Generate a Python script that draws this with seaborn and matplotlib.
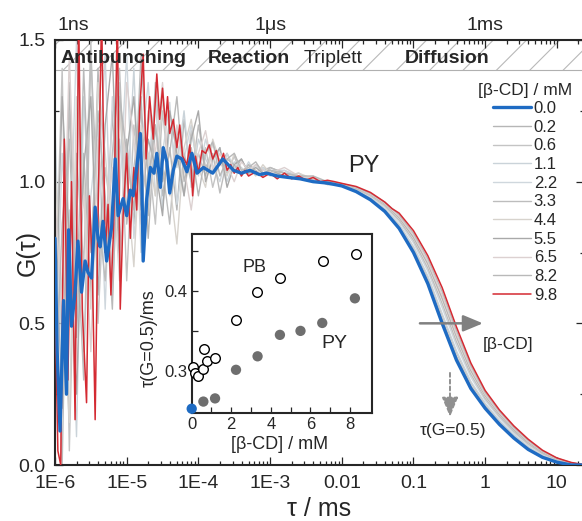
import numpy as np
import pandas as pd
import matplotlib
matplotlib.use('Agg')
import matplotlib.pyplot as plt
from matplotlib.ticker import FixedLocator, MultipleLocator, FormatStrFormatter, NullFormatter
import seaborn as sns

sns.set_style('ticks')
plt.rcParams['font.family'] = ['Liberation Sans', 'DejaVu Sans']
plt.rcParams['hatch.color'] = '#b8b8b8'
plt.rcParams['hatch.linewidth'] = 0.8

# ---- main panel data: log10(tau / ms) and normalised G(tau) ----
concs = ['0.0', '0.2', '0.6', '1.1', '2.2', '3.3', '4.4', '5.5', '6.5', '8.2', '9.8']

blue_logtau = [-6.00, -5.97, -5.93, -5.88, -5.84, -5.81, -5.77, -5.72, -5.68, -5.63,
               -5.58, -5.54, -5.49, -5.44, -5.40, -5.37, -5.33, -5.28, -5.21, -5.16,
               -5.12, -5.05, -5.00, -4.95, -4.91, -4.86, -4.81, -4.79, -4.77, -4.72,
               -4.67, -4.62, -4.58, -4.53, -4.49, -4.44, -4.40, -4.35, -4.30, -4.23,
               -4.16, -4.09, -4.02, -3.93, -3.80, -3.66, -3.51, -3.40, -3.28, -3.15,
               -3.05, -2.90, -2.75, -2.58, -2.40, -2.20,
               -2.0, -1.8, -1.6, -1.4, -1.2, -1.0, -0.8, -0.6, -0.4, -0.2,
               0.0, 0.2, 0.4, 0.6, 0.8, 1.0, 1.2, 1.4]
blue_G = [0.80, 0.40, 0.12, 0.58, 0.25, 0.83, 0.49, 0.61, 0.79, 0.61,
          0.72, 0.68, 0.66, 0.91, 0.80, 0.77, 0.86, 0.72, 0.84, 1.08,
          0.88, 0.94, 0.88, 0.97, 0.95, 1.05, 1.17, 1.02, 0.72, 0.94,
          1.05, 1.03, 1.10, 0.98, 1.12, 1.07, 0.96, 1.04, 1.09, 1.08,
          1.035, 1.10, 1.03, 1.05, 1.03, 1.08, 1.04, 1.03, 1.04, 1.025,
          1.03, 1.02, 1.015, 1.01, 1.0, 0.995,
          0.985, 0.965, 0.936, 0.895, 0.835, 0.75, 0.64, 0.50, 0.37, 0.27,
          0.20, 0.143, 0.095, 0.055, 0.027, 0.01, 0.0, 0.0]

red_logtau = [-6.00, -5.96, -5.92, -5.87, -5.82, -5.77, -5.72, -5.67, -5.62, -5.56,
              -5.52, -5.48, -5.44, -5.40, -5.35, -5.30, -5.26, -5.22, -5.18, -5.13,
              -5.09, -5.05, -5.00, -4.95, -4.90, -4.86, -4.82, -4.77, -4.73, -4.68,
              -4.63, -4.58, -4.54, -4.50, -4.46, -4.43, -4.40, -4.35, -4.30, -4.26,
              -4.22, -4.16, -4.12, -4.08, -4.04, -4.00, -3.95, -3.90, -3.85, -3.80,
              -3.75, -3.70, -3.65, -3.60, -3.55, -3.50, -3.45, -3.40, -3.35, -3.30,
              -3.20, -3.10, -3.00, -2.90, -2.80, -2.70, -2.60, -2.50, -2.40, -2.30,
              -2.20, -2.10, -2.0, -1.8, -1.6, -1.5, -1.4, -1.3, -1.2, -1.0,
              -0.8, -0.6, -0.4, -0.2, 0.0, 0.2, 0.4, 0.6, 0.8, 1.0,
              1.2, 1.4]
red_G = [0.60, 0.05, 0.00, 1.15, 0.30, 1.00, 0.16, 1.60, 0.55, 0.22,
         0.95, 0.70, 0.16, 0.87, 1.60, 0.75, 0.92, 0.60, 0.85, 1.60,
         0.55, 0.88, 1.10, 0.80, 1.05, 0.90, 1.25, 1.45, 1.08, 1.30,
         1.15, 1.38, 1.22, 1.33, 1.20, 1.30, 1.17, 1.22, 1.12, 1.20,
         1.09, 1.06, 1.13, 0.95, 1.09, 1.03, 1.11, 1.10, 1.13, 1.08,
         1.11, 1.06, 1.10, 1.04, 1.06, 1.03, 1.05, 1.02, 1.04, 1.02,
         1.035, 1.015, 1.03, 1.01, 1.03, 1.01, 1.02, 1.005, 1.015, 1.0,
         1.005, 1.0, 0.994, 0.983, 0.962, 0.945, 0.928, 0.905, 0.889, 0.827,
         0.739, 0.626, 0.487, 0.36, 0.263, 0.194, 0.138, 0.091, 0.052, 0.025,
         0.009, 0.0]

gray_logtau = [-6.0, -5.9, -5.8, -5.7, -5.6, -5.5, -5.4, -5.3, -5.2, -5.1,
               -5.0, -4.9, -4.8, -4.7, -4.6, -4.5, -4.4, -4.3, -4.2, -4.1,
               -4.0, -3.9, -3.8, -3.7, -3.6, -3.5, -3.4, -3.3, -3.2, -3.1,
               -3.0, -2.8, -2.6, -2.4, -2.2,
               -2.0, -1.8, -1.6, -1.4, -1.2, -1.0, -0.8, -0.6, -0.4, -0.2,
               0.0, 0.2, 0.4, 0.6, 0.8, 1.0, 1.2, 1.4]
gray_G = {
    '0.2': [0.90, 0.20, 1.35, 0.45, 1.10, 0.60, 1.40, 0.75, 1.25, 0.70,
            1.15, 0.85, 1.30, 0.80, 1.20, 0.95, 1.12, 0.90, 1.22, 1.00,
            1.10, 1.02, 1.14, 1.06, 1.10, 1.04, 1.08, 1.03, 1.06, 1.04,
            1.05, 1.03, 1.02, 1.01, 1.00,
            0.986, 0.967, 0.939, 0.899, 0.841, 0.759, 0.651, 0.514, 0.383, 0.280,
            0.207, 0.149, 0.100, 0.059, 0.030, 0.012, 0.001, 0.0],
    '0.6': [0.55, 1.40, 0.05, 1.10, 0.70, 1.50, 0.50, 1.05, 0.85, 1.35,
            0.65, 1.20, 0.95, 1.10, 0.85, 1.25, 1.00, 1.15, 0.95, 1.18,
            1.05, 1.12, 0.98, 1.08, 1.03, 1.09, 1.02, 1.06, 1.03, 1.05,
            1.04, 1.02, 1.03, 1.00, 1.00,
            0.987, 0.969, 0.942, 0.903, 0.847, 0.767, 0.662, 0.528, 0.396, 0.290,
            0.214, 0.154, 0.105, 0.063, 0.033, 0.013, 0.002, 0.0],
    '1.1': [1.20, 0.35, 0.90, 0.10, 1.30, 0.80, 1.00, 1.45, 0.60, 1.15,
            0.90, 1.40, 0.75, 1.05, 1.30, 0.90, 1.20, 1.05, 1.25, 0.98,
            1.15, 1.08, 1.03, 1.12, 1.00, 1.07, 1.05, 1.02, 1.06, 1.03,
            1.04, 1.04, 1.01, 1.02, 0.99,
            0.988, 0.970, 0.943, 0.905, 0.850, 0.771, 0.668, 0.535, 0.403, 0.295,
            0.218, 0.157, 0.107, 0.065, 0.034, 0.014, 0.003, 0.0],
    '2.2': [0.30, 1.10, 0.65, 1.50, 0.40, 0.95, 1.20, 0.55, 1.30, 0.95,
            1.45, 0.80, 1.10, 1.35, 0.95, 1.10, 1.28, 0.92, 1.08, 1.20,
            1.02, 1.15, 1.06, 1.00, 1.10, 1.05, 1.02, 1.07, 1.03, 1.05,
            1.02, 1.04, 1.02, 1.00, 1.00,
            0.989, 0.973, 0.948, 0.911, 0.859, 0.784, 0.684, 0.556, 0.422, 0.310,
            0.228, 0.166, 0.114, 0.071, 0.038, 0.017, 0.004, 0.0],
    '3.3': [0.70, 0.00, 1.25, 0.85, 0.30, 1.45, 0.90, 0.65, 1.10, 1.40,
            0.85, 1.05, 1.25, 0.88, 1.35, 1.05, 0.85, 1.18, 1.10, 1.00,
            1.20, 1.05, 1.10, 0.96, 1.08, 1.06, 1.03, 1.06, 1.04, 1.02,
            1.05, 1.03, 1.02, 1.01, 1.00,
            0.990, 0.975, 0.951, 0.916, 0.865, 0.793, 0.695, 0.570, 0.435, 0.320,
            0.235, 0.172, 0.119, 0.075, 0.041, 0.019, 0.005, 0.0],
    '4.4': [1.05, 0.60, 0.15, 1.30, 1.00, 0.55, 1.35, 1.10, 0.80, 1.25,
            1.00, 0.70, 1.20, 1.10, 0.95, 1.30, 1.00, 0.78, 1.12, 1.22,
            1.05, 0.98, 1.15, 1.07, 1.02, 1.10, 1.04, 1.05, 1.02, 1.06,
            1.03, 1.02, 1.03, 1.01, 1.00,
            0.991, 0.977, 0.953, 0.920, 0.871, 0.801, 0.706, 0.584, 0.448, 0.330,
            0.242, 0.177, 0.124, 0.079, 0.044, 0.020, 0.006, 0.0],
    '5.5': [0.45, 1.30, 0.80, 0.25, 1.05, 1.30, 0.60, 1.20, 1.45, 0.75,
            1.10, 1.30, 0.90, 1.15, 1.05, 0.88, 1.25, 1.10, 0.95, 1.15,
            1.25, 1.00, 1.08, 1.12, 0.98, 1.06, 1.08, 1.03, 1.05, 1.03,
            1.04, 1.02, 1.01, 1.01, 0.99,
            0.992, 0.978, 0.955, 0.922, 0.874, 0.805, 0.712, 0.591, 0.455, 0.335,
            0.246, 0.180, 0.126, 0.081, 0.045, 0.021, 0.007, 0.0],
    '6.5': [0.95, 0.50, 1.45, 0.70, 0.95, 0.40, 1.15, 0.85, 1.05, 0.65,
            1.35, 1.15, 0.85, 1.25, 1.10, 1.35, 0.95, 1.20, 1.05, 0.90,
            1.10, 1.18, 1.04, 1.10, 1.06, 1.00, 1.07, 1.04, 1.06, 1.04,
            1.03, 1.05, 1.02, 1.01, 1.00,
            0.992, 0.979, 0.956, 0.924, 0.877, 0.810, 0.717, 0.598, 0.461, 0.340,
            0.249, 0.183, 0.129, 0.083, 0.047, 0.022, 0.007, 0.0],
    '8.2': [0.20, 0.85, 1.15, 0.55, 1.40, 0.75, 1.25, 0.95, 0.55, 1.30,
            1.10, 0.90, 1.45, 1.00, 1.20, 1.00, 1.10, 1.30, 1.00, 1.12,
            0.95, 1.10, 1.14, 1.02, 1.08, 1.10, 1.04, 1.05, 1.07, 1.03,
            1.04, 1.03, 1.02, 1.02, 1.00,
            0.993, 0.981, 0.959, 0.928, 0.883, 0.818, 0.728, 0.612, 0.474, 0.350,
            0.256, 0.189, 0.133, 0.087, 0.049, 0.024, 0.008, 0.0],
}

# ---- inset data: tau(G=0.5) vs [beta-CD] ----
pb_conc = [0.08, 0.15, 0.30, 0.55, 0.60, 0.78, 1.18, 2.24, 3.32, 4.46, 6.62, 8.33]
pb_tau = [0.305, 0.297, 0.293, 0.302, 0.327, 0.312, 0.316, 0.364, 0.399, 0.416, 0.438, 0.447]
py_conc = [0.59, 1.18, 2.24, 3.33, 4.46, 5.50, 6.60, 8.25]
py_tau = [0.261, 0.265, 0.301, 0.318, 0.345, 0.350, 0.360, 0.391]
ref_conc = [0.0]
ref_tau = [0.252]

colors = {'0.0': '#1e6bc3', '0.2': '#b6b6b6', '0.6': '#c4c4c4', '1.1': '#cad3d9',
          '2.2': '#cfd7dd', '3.3': '#bdbdbd', '4.4': '#d7d3cd', '5.5': '#a9a9a9',
          '6.5': '#dcd1d1', '8.2': '#b9b9b9', '9.8': '#d42a32'}

frames = [pd.DataFrame({'tau': 10 ** np.array(blue_logtau), 'G': blue_G, 'conc': '0.0'}),
          pd.DataFrame({'tau': 10 ** np.array(red_logtau), 'G': red_G, 'conc': '9.8'})]
for c, g in gray_G.items():
    frames.append(pd.DataFrame({'tau': 10 ** np.array(gray_logtau), 'G': g, 'conc': c}))
df = pd.concat(frames, ignore_index=True)

fig = plt.figure(figsize=(5.82, 5.21), dpi=100)
ax = fig.add_axes([55 / 582, 1 - 465 / 521, 529 / 582, 425 / 521])
ax.set_xscale('log')

# hatched band with regime labels
ax.axhspan(1.394, 1.5, facecolor='white', edgecolor='#b8b8b8', hatch='/', lw=0, zorder=0.5)
ax.axhline(1.394, color='#b0b0b0', lw=0.8, zorder=0.6)

order = ['0.2', '0.6', '1.1', '2.2', '3.3', '4.4', '5.5', '6.5', '8.2', '9.8', '0.0']
for c in order:
    sub = df[df['conc'] == c]
    if c == '0.0':
        lw, z = 2.4, 4
    elif c == '9.8':
        lw, z = 1.1, 3
    else:
        lw, z = 1.0, 2
    sns.lineplot(data=sub, x='tau', y='G', color=colors[c], linewidth=lw,
                 estimator=None, sort=False, ax=ax, label=c, zorder=z)

ax.set_xlim(1e-6, 23.9)
ax.set_ylim(0, 1.5)
ax.xaxis.set_major_locator(FixedLocator([1e-6, 1e-5, 1e-4, 1e-3, 1e-2, 1e-1, 1, 10]))
ax.set_xticklabels(['1E-6', '1E-5', '1E-4', '1E-3', '0.01', '0.1', '1', '10'])
minors = [m * 10.0 ** e for e in range(-6, 2) for m in range(2, 10)]
ax.xaxis.set_minor_locator(FixedLocator(minors))
ax.xaxis.set_minor_formatter(NullFormatter())
ax.yaxis.set_major_locator(MultipleLocator(0.5))
ax.yaxis.set_minor_locator(MultipleLocator(0.25))
ax.yaxis.set_major_formatter(FormatStrFormatter('%.1f'))
ax.tick_params(which='both', direction='in', top=True, right=True, width=0.9, labelsize=14)
ax.tick_params(which='major', length=5.5, pad=7)
ax.tick_params(which='minor', length=3)
for s in ax.spines.values():
    s.set_linewidth(1.5)

ax.set_xlabel('τ / ms', fontsize=18, labelpad=4)
ax.set_ylabel('G(τ)', fontsize=18)
ax.yaxis.set_label_coords(-0.028, 0.5)

tr = ax.get_xaxis_transform()
ax.text(1.07e-6, 1.035, '1ns', transform=tr, ha='left', va='center', fontsize=14)
ax.text(1e-3, 1.035, '1μs', transform=tr, ha='center', va='center', fontsize=14)
ax.text(1, 1.035, '1ms', transform=tr, ha='center', va='center', fontsize=14)

ax.text(9.0e-6, 1.435, 'Antibunching', ha='center', va='center', fontsize=14, fontweight='bold', zorder=6)
ax.text(5.1e-4, 1.435, 'Reaction', ha='center', va='center', fontsize=14, fontweight='bold', zorder=6)
ax.text(7.5e-3, 1.435, 'Triplett', ha='center', va='center', fontsize=14, zorder=6)
ax.text(0.298, 1.435, 'Diffusion', ha='center', va='center', fontsize=14, fontweight='bold', zorder=6)

ax.text(0.0204, 1.055, 'PY', ha='center', va='center', fontsize=17)
ax.annotate('', xy=(0.93, 0.5), xytext=(0.123, 0.5), zorder=6,
            arrowprops=dict(arrowstyle='-|>,head_length=0.6,head_width=0.25',
                            color='#808080', lw=1.8, mutation_scale=20, shrinkA=0, shrinkB=0))
ax.text(2.08, 0.424, '[β-CD]', ha='center', va='center', fontsize=12.5)
ax.annotate('', xy=(0.323, 0.17), xytext=(0.323, 0.325), zorder=6,
            arrowprops=dict(arrowstyle='-|>,head_length=0.6,head_width=0.25',
                            color='#909090', lw=1.4, ls=(0, (2, 1.5)), mutation_scale=20,
                            shrinkA=0, shrinkB=0))
ax.text(0.356, 0.12, 'τ(G=0.5)', ha='center', va='center', fontsize=12.5)

handles, labels = ax.get_legend_handles_labels()
hmap = dict(zip(labels, handles))
leg = ax.legend([hmap[c] for c in concs], concs, title='[β-CD] / mM',
                loc='upper center', bbox_to_anchor=(525 / 582, 1 - 75 / 521),
                bbox_transform=fig.transFigure, frameon=False, fontsize=12,
                title_fontsize=12.5, borderpad=0, handlelength=2.3,
                handletextpad=0.15, labelspacing=0.22)
leg._legend_box.sep = 2

# ---- inset ----
axin = fig.add_axes([191.7 / 582, 1 - 412.7 / 521, 180 / 582, 178.7 / 521])
axin.set_facecolor('white')
sns.scatterplot(x=pb_conc, y=pb_tau, ax=axin, s=48, facecolor='white', edgecolor='black',
                linewidth=1.0, clip_on=False, zorder=3)
sns.scatterplot(x=py_conc, y=py_tau, ax=axin, s=55, color='#6e6e6e', edgecolor='none',
                clip_on=False, zorder=3)
sns.scatterplot(x=ref_conc, y=ref_tau, ax=axin, s=55, color='#1e6bc3', edgecolor='none',
                clip_on=False, zorder=4)
axin.set_xlim(0, 9.1)
axin.set_ylim(0.247, 0.472)
axin.xaxis.set_major_locator(FixedLocator([0, 2, 4, 6, 8]))
axin.xaxis.set_minor_locator(FixedLocator([1, 3, 5, 7]))
axin.yaxis.set_major_locator(FixedLocator([0.3, 0.4]))
axin.yaxis.set_minor_locator(FixedLocator([0.35, 0.45]))
axin.set_yticklabels(['0.3', '0.4'])
axin.tick_params(which='both', direction='in', length=4, width=0.9, labelsize=12, pad=3)
for s in axin.spines.values():
    s.set_linewidth(1.5)
axin.set_xlabel('[β-CD] / mM', fontsize=13)
axin.xaxis.set_label_coords(0.49, -0.13)
axin.set_ylabel('τ(G=0.5)/ms', fontsize=13)
axin.yaxis.set_label_coords(-0.19, 0.42)
axin.text(3.2, 0.430, 'PB', ha='center', va='center', fontsize=13)
axin.text(7.19, 0.3335, 'PY', ha='center', va='center', fontsize=14)

fig.savefig('out.png', dpi=100)
